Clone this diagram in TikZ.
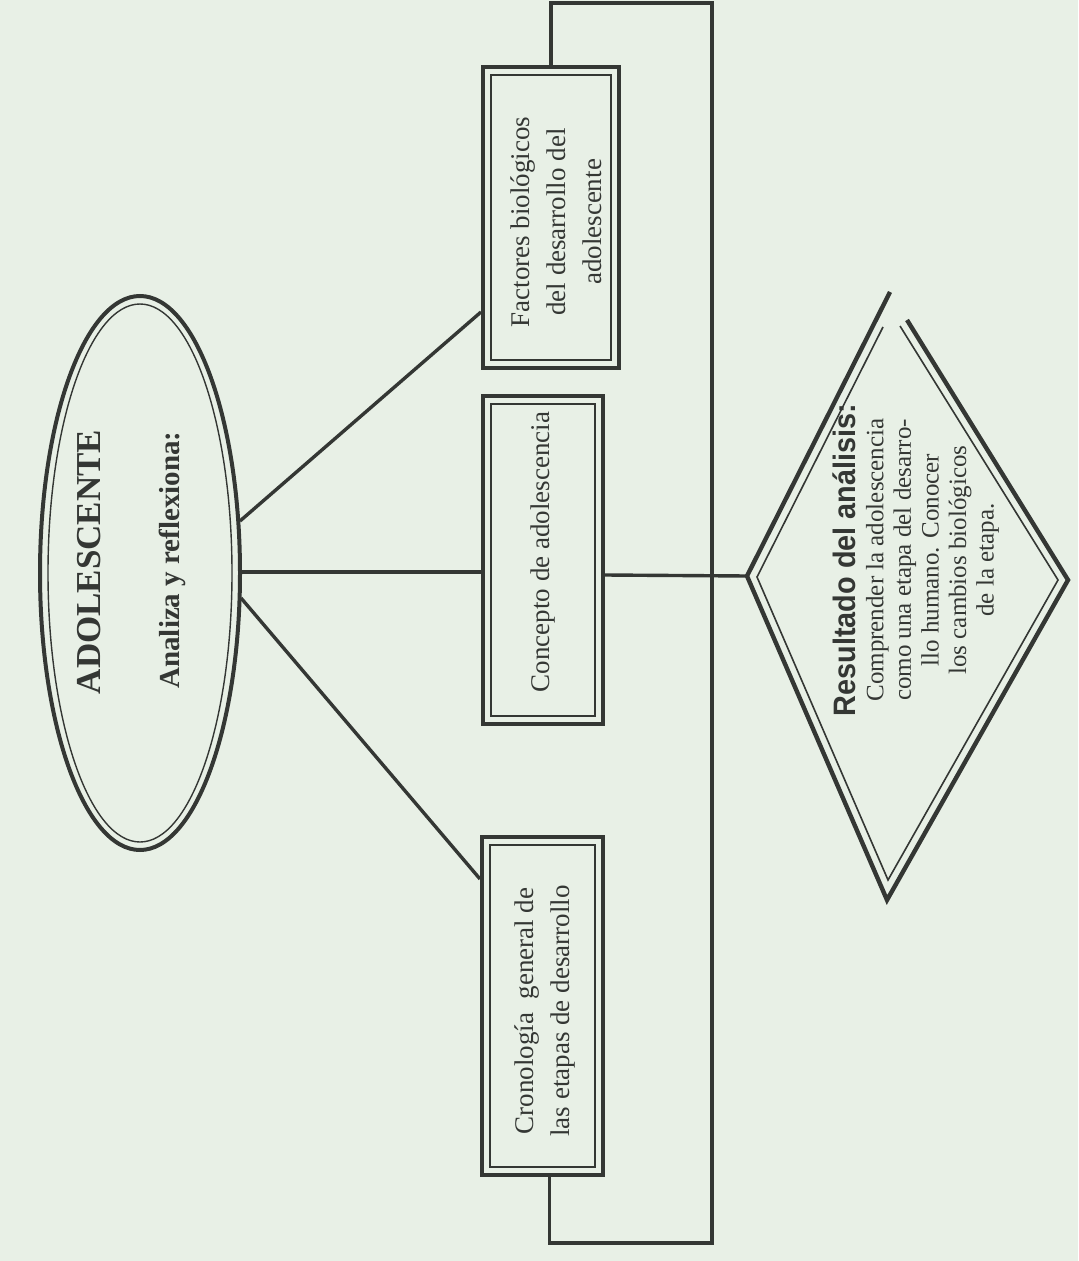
\documentclass[tikz,border=0pt]{standalone}
\usepackage{fontspec}
\setmainfont{Liberation Serif}
\newfontfamily\headsans{Liberation Sans}
\usetikzlibrary{shapes.geometric}
\definecolor{paper}{RGB}{232,240,230}
\definecolor{ink}{RGB}{52,55,52}
\begin{document}
\begin{tikzpicture}[x=0.5pt,y=-0.5pt,
  box/.style={draw=ink, line width=2pt, rectangle, inner sep=0pt},
  innerline/.style={draw=ink, line width=0.8pt},
  conn/.style={draw=ink, line width=1.7pt},
  lbl/.style={rotate=90, text=ink, align=center, inner sep=0pt},
  boxtext/.style={lbl, font=\fontsize{13.5}{18}\selectfont},
  oval/.style={ellipse, draw=ink, inner sep=0pt}]
\fill[paper] (0,0) rectangle (1078,1261);
\useasboundingbox (0,0) rectangle (1078,1261);

% ellipse
\node[oval, line width=2pt, minimum width=100pt, minimum height=277pt] (ell) at (140,573) {};
\node[oval, line width=0.7pt, minimum width=92pt, minimum height=269pt] (elli) at (ell.center) {};
\node[lbl, font=\fontsize{17.5}{20}\selectfont\bfseries] (adol) at (89,562) {ADOLESCENTE};
\node[lbl, font=\fontsize{14.5}{17}\selectfont\bfseries] (anal) at (172,560) {Analiza y reflexiona:};

% boxes
\node[box, minimum width=68pt, minimum height=150.5pt] (f) at (551,217.5) {};
\draw[innerline] ([shift={(5pt,-5pt)}]f.north west) rectangle ([shift={(-5pt,5pt)}]f.south east);
\node[boxtext] (ft) at (556,222) {Factores biológicos\\del desarrollo del\\adolescente};

\node[box, minimum width=60pt, minimum height=164pt] (c) at (543,560) {};
\draw[innerline] ([shift={(5pt,-5pt)}]c.north west) rectangle ([shift={(-5pt,5pt)}]c.south east);
\node[boxtext] (ct) at (543,552) {Concepto de adolescencia};

\node[box, minimum width=60.5pt, minimum height=169pt] (r) at (542.5,1006) {};
\draw[innerline] ([shift={(5pt,-5pt)}]r.north west) rectangle ([shift={(-5pt,5pt)}]r.south east);
\node[boxtext] (rt) at (545,1011) {Cronología\hspace{0.5em}general de\\las etapas de desarrollo};

% diamond
\coordinate (dl) at (747,576);
\coordinate (dT) at (890,292);
\coordinate (dR) at (1068,580);
\coordinate (dB) at (887,900);
\draw[draw=ink, line width=2.2pt, line join=miter] (907,320) -- (dR) -- (dB) -- (dl) -- (dT);
\draw[innerline, line join=miter] (900,326) -- (1058,580) -- (888,880) -- (757,577) -- (883,327);
\node[lbl, font=\fontsize{12.5}{13.8}\selectfont] (dt) at (916,560)
  {{\headsans\bfseries\fontsize{15.5}{15.5}\selectfont\scalebox{0.93}[1]{Resultado del análisis:}}\\
   Comprender la adolescencia\\como una etapa del desarro-\\llo humano. Conocer\\los cambios biológicos\\de la etapa.};

% connector points
\path (ell.east) ++(-2,-52) coordinate (e1);
\path (ell.east) ++(0,-1) coordinate (e2);
\path (ell.east) ++(-1,25) coordinate (e3);
\path (f.south west) ++(0,-58) coordinate (fa);
\path (c.west) ++(0,12) coordinate (ca);
\path (r.north west) ++(0,44) coordinate (ra);
\path (c.east) ++(0,15) coordinate (cb);
\path (r.south) ++(7,0) coordinate (rs);
\coordinate (tr) at (712,3);
\coordinate (br) at (712,1243);

\draw[conn] (e1) -- (fa);
\draw[conn] (e2) -- (ca);
\draw[conn] (e3) -- (ra);
\draw[conn] (cb) -- (dl);
\draw[conn] (f.north) |- (tr) -- (br) -| (rs);
\end{tikzpicture}
\end{document}
